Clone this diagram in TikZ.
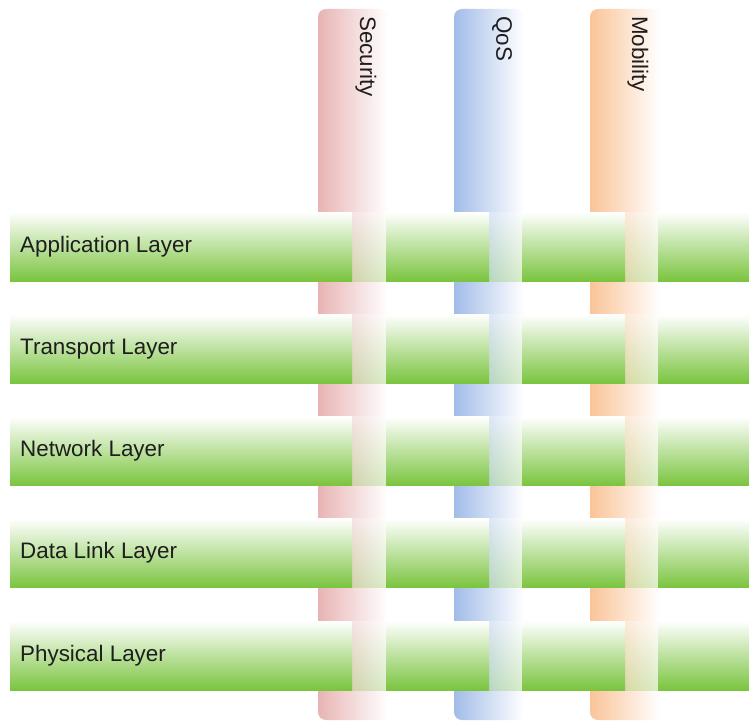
\documentclass[tikz,border=0pt]{standalone}
\usepackage{fontspec}
\setmainfont{Liberation Sans}
\definecolor{secC}{RGB}{232,180,180}
\definecolor{qosC}{RGB}{162,188,232}
\definecolor{mobC}{RGB}{250,196,152}
\definecolor{barG}{RGB}{122,196,62}
\definecolor{txtC}{RGB}{30,30,30}
\begin{document}
\begin{tikzpicture}[x=1pt,y=-1pt,
  column/.style={rounded corners=8pt, left color=#1,
    middle color=#1!45!white, right color=white},
  barfill/.style={top color=white, bottom color=barG},
  crossing/.style={barfill, opacity=0.28},
  layertext/.style={text=txtC, inner sep=0pt, anchor=base west,
    font=\fontsize{22.4}{26}\selectfont},
  collabel/.style={text=txtC, inner sep=0pt, anchor=west, rotate=-90,
    font=\fontsize{22.4}{26}\selectfont}]
\useasboundingbox (0,0) rectangle (749,722);
\fill[white] (0,0) rectangle (749,722);

% vertical cross-layer concerns
\shade[column=secC] (318,9) rectangle (388,720);
\shade[column=qosC] (454,9) rectangle (524,720);
\shade[column=mobC] (590,9) rectangle (660,720);
\node[collabel] (security) at (366,16) {Security};
\node[collabel] (qos) at (502,16) {QoS};
\node[collabel] (mobility) at (638,16) {Mobility};

% horizontal protocol layers
\foreach \i/\lbl/\nm in {0/Application Layer/app, 1/Transport Layer/trans,
    2/Network Layer/net, 3/Data Link Layer/link, 4/Physical Layer/phys}{
  \pgfmathsetmacro{\ytop}{212+102.25*\i}
  \pgfmathsetmacro{\ybot}{\ytop+69}
  \shade[barfill] (10,\ytop) rectangle (352,\ybot);
  \shade[barfill] (386,\ytop) rectangle (489,\ybot);
  \shade[barfill] (522,\ytop) rectangle (625,\ybot);
  \shade[barfill] (658,\ytop) rectangle (749,\ybot);
  \shade[crossing] (352,\ytop) rectangle (386,\ybot);
  \shade[crossing] (489,\ytop) rectangle (522,\ybot);
  \shade[crossing] (625,\ytop) rectangle (658,\ybot);
  \node[layertext] (\nm) at (20,\ytop+40) {\lbl};
}
\end{tikzpicture}
\end{document}
